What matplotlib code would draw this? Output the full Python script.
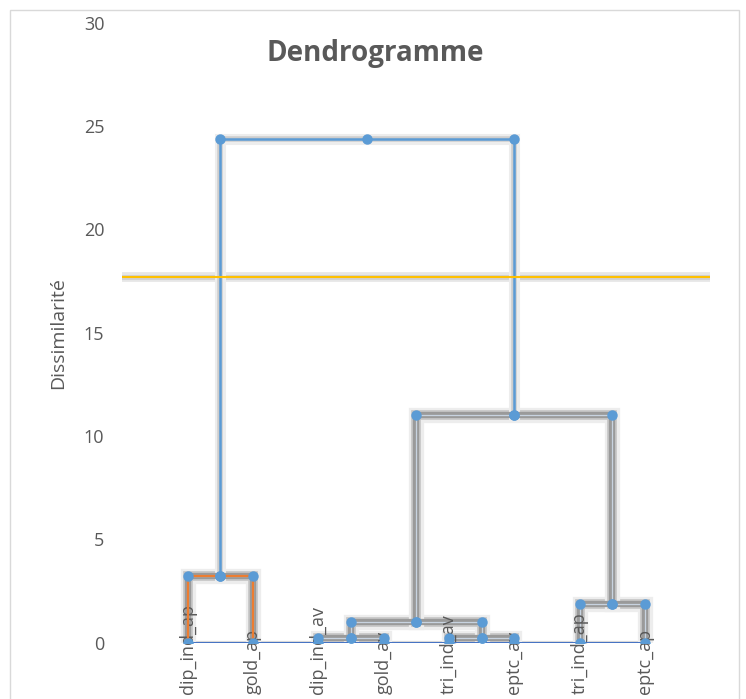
import numpy as np
import matplotlib.pyplot as plt
from matplotlib.patches import Rectangle
from matplotlib.transforms import blended_transform_factory

plt.rcParams['font.family'] = ['Open Sans', 'DejaVu Sans']

# feuilles du dendrogramme (ordre sur l'axe)
leaves = ['dip_ind_ap', 'gold_ap', 'dip_ind_av', 'gold_av',
          'tri_ind_av', 'eptc_av', 'tri_ind_ap', 'eptc_ap']
# fusions : noeuds 0..7 = feuilles, 8.. = fusions successives
merge_left = [0, 2, 4, 9, 6, 11, 8]
merge_right = [1, 3, 5, 10, 7, 12, 13]
merge_height = [3.23, 0.23, 0.23, 1.02, 1.87, 11.02, 24.36]
cut_height = 17.71
yticks = [0, 5, 10, 15, 20, 25, 30]

txt = '#595959'
blue = '#5B9BD5'

fig = plt.figure(figsize=(7.46, 6.99), dpi=100)
ax = fig.add_axes([0.164, 0.0805, 0.788, 0.887])
ax.set_xlim(0, 9)
ax.set_ylim(0, 30)

# positions des noeuds
node_x = [i + 1 for i in range(len(leaves))]
node_y = [0.0] * len(leaves)
for l, r, h in zip(merge_left, merge_right, merge_height):
    node_x.append((node_x[l] + node_x[r]) / 2)
    node_y.append(h)

n = len(merge_height)
for k, (l, r, h) in enumerate(zip(merge_left, merge_right, merge_height)):
    xs = [node_x[l], node_x[l], (node_x[l] + node_x[r]) / 2, node_x[r], node_x[r]]
    ys = [node_y[l], h, h, h, node_y[r]]
    if k == n - 1:
        ax.plot(xs, ys, color='#EDEDED', lw=8, solid_joinstyle='miter', zorder=2)
        ax.plot(xs, ys, color='#CDCDCD', lw=4, solid_joinstyle='miter', zorder=2)
        ax.plot(xs, ys, color=blue, lw=1.8, solid_joinstyle='miter', zorder=4)
    else:
        ax.plot(xs, ys, color='#EDEDED', lw=11, solid_joinstyle='miter', zorder=2)
        ax.plot(xs, ys, color='#C6C6C6', lw=7, solid_joinstyle='miter', zorder=2)
        ax.plot(xs, ys, color='#9A9A9A', lw=4.5, solid_joinstyle='miter', zorder=3)
        ax.plot(xs, ys, color='#C8D3E0', lw=0.9, solid_joinstyle='miter', zorder=3)
        if k == 0:
            ax.plot(xs, ys, color='#ED7D31', lw=1.6, solid_joinstyle='miter', zorder=4)
    ax.plot(xs, ys, ls='none', marker='o', ms=6.5, color=blue, zorder=5)

# ligne de base
ax.plot([node_x[0], node_x[len(leaves) - 1]], [0, 0], color='#D9D9D9', lw=3, zorder=1)
ax.plot([node_x[0], node_x[len(leaves) - 1]], [0, 0], color='#4472C4', lw=1.4, zorder=4)

# seuil de coupure
ax.plot([0, 9], [cut_height, cut_height], color='#E6E6E6', lw=7, zorder=1)
ax.plot([0, 9], [cut_height, cut_height], color='#D0D0D0', lw=3.5, zorder=1)
ax.plot([0, 9], [cut_height, cut_height], color='#FFC000', lw=1.5, zorder=4)

# étiquettes des feuilles
tr = blended_transform_factory(ax.transData, ax.transAxes)
for i, lab in enumerate(leaves):
    ax.text(node_x[i], -0.082, lab, rotation=90, ha='center', va='bottom',
            fontsize=13, color=txt, transform=tr, zorder=3, clip_on=False)

ax.set_xticks([])
ax.set_yticks(yticks)
ax.tick_params(axis='y', length=0, pad=13, labelsize=13, labelcolor=txt)
for s in ax.spines.values():
    s.set_visible(False)

fig.text(58 / 746, 1 - 333 / 699, 'Dissimilarité', rotation=90, ha='center',
         va='center', fontsize=14, color=txt)
fig.text(375 / 746, 1 - 53 / 699, 'Dendrogramme', ha='center', va='center',
         fontsize=20, fontweight='bold', color=txt)

fig.patches.append(Rectangle((10 / 746, -0.1), 729 / 746, 1.1 - 10 / 699,
                             transform=fig.transFigure, fill=False,
                             edgecolor='#D9D9D9', lw=1))

fig.savefig('out.png', dpi=100)
